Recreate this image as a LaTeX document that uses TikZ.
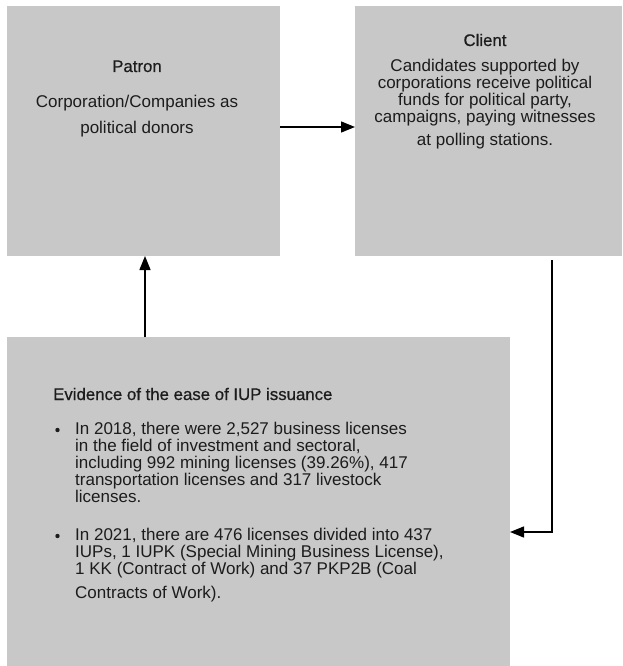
\documentclass[tikz,border=0pt]{standalone}
\usepackage{fontspec}
\setmainfont{Liberation Sans}
\newfontfamily\medfont[FakeBold=0.6]{Liberation Sans}
\usetikzlibrary{arrows.meta}
\definecolor{boxgray}{RGB}{200,200,200}
\definecolor{ink}{RGB}{28,28,28}
\begin{document}
\begin{tikzpicture}[x=1pt,y=-1pt,
  box/.style={fill=boxgray,draw=none,inner sep=0pt,outer sep=0pt},
  txt/.style={text=ink,inner sep=0pt,font=\fontsize{17}{17}\selectfont},
  ttl/.style={text=ink,inner sep=0pt,font=\fontsize{16.8}{17}\selectfont\medfont},
  arr/.style={draw=black,line width=1.3pt,-{Triangle[length=14pt,width=11pt]}}]
\useasboundingbox (0,0) rectangle (622,666);
% boxes
\node[box,minimum width=273pt,minimum height=250pt] (patron) at (143.5,131) {};
\node[box,minimum width=267pt,minimum height=250pt] (client) at (488.5,131) {};
\node[box,minimum width=503pt,minimum height=329pt] (evid) at (258.5,501.5) {};
% patron text
\node[ttl,anchor=base] (pt) at (137,72) {Patron};
\node[txt,anchor=base] (pb1) at (137,107) {Corporation/Companies as};
\node[txt,anchor=base] (pb2) at (137,133) {political donors};
% client text
\node[ttl,anchor=base] (ct) at (485,46) {Client};
\foreach \t/\yy [count=\i] in {Candidates supported by/72,
  corporations receive political/89,
  {funds for political party,}/106,
  {campaigns, paying witnesses}/123,
  at polling stations./146}
  \node[txt,anchor=base] (cb\i) at (485,\yy) {\t};
% evidence text
\node[ttl,anchor=base west] (et) at (53,400) {Evidence of the ease of IUP issuance};
\foreach \t/\yy [count=\i] in {{In 2018, there were 2,527 business licenses}/434,
  {in the field of investment and sectoral,}/451,
  {including 992 mining licenses (39.26\%), 417}/468,
  transportation licenses and 317 livestock/485,
  licenses./502,
  {In 2021, there are 476 licenses divided into 437}/540,
  {IUPs, 1 IUPK (Special Mining Business License),}/557,
  1 KK (Contract of Work) and 37 PKP2B (Coal/574,
  Contracts of Work)./598}
  \node[txt,anchor=base west] (eb\i) at (75,\yy) {\t};
\fill[ink] (57.5,430) circle (2.2pt) coordinate (bul1);
\fill[ink] (57.5,536) circle (2.2pt) coordinate (bul2);
% connectors
\coordinate (ha) at (0,127);
\coordinate (va) at (145,0);
\coordinate (vb) at (552,532);
\draw[arr] (patron.east |- ha) -- (client.west |- ha);
\draw[arr] (evid.north -| va) -- (patron.south -| va);
\draw[arr,shorten <=4pt] (client.south -| vb) |- (evid.east |- vb);
\end{tikzpicture}
\end{document}
